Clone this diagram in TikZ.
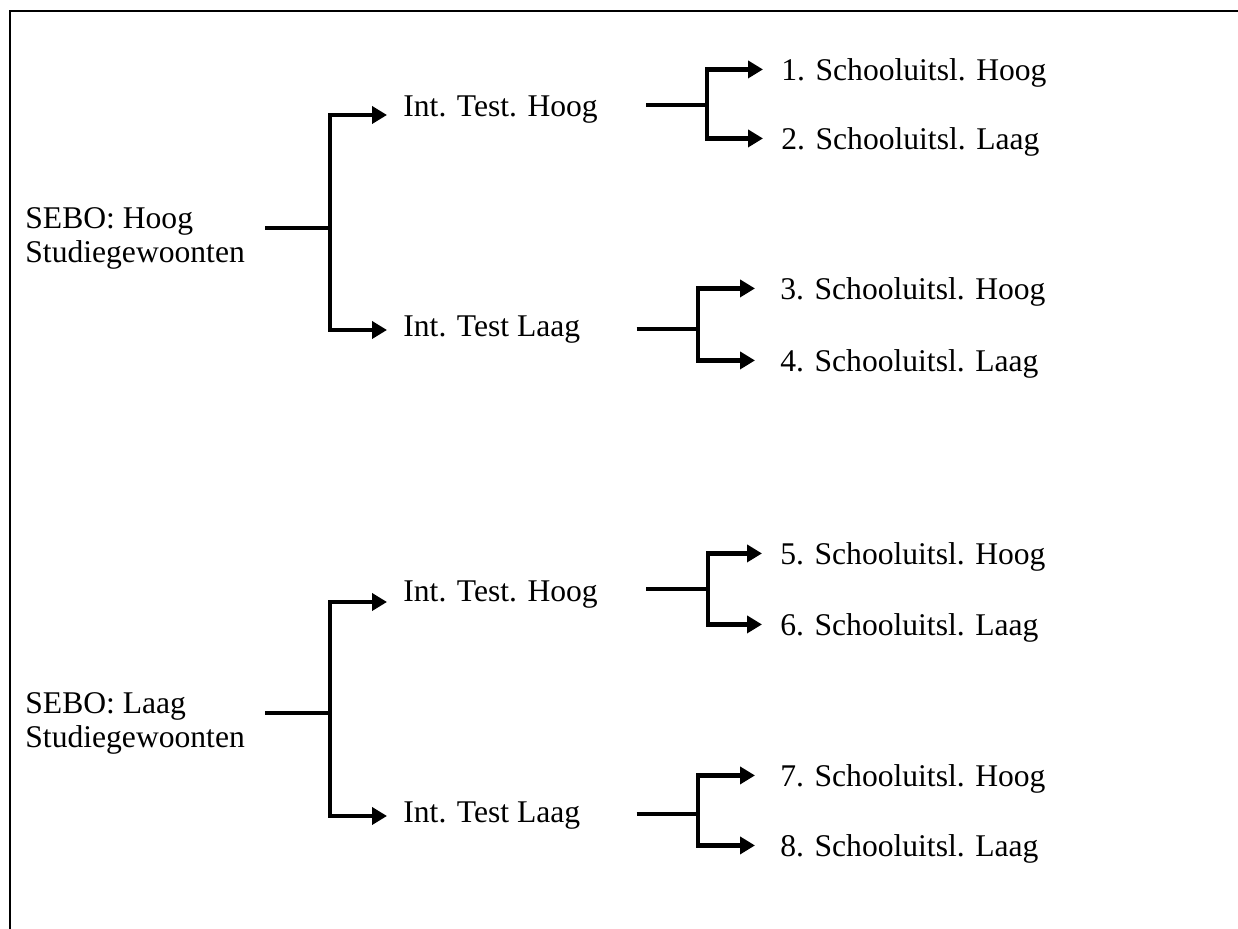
\documentclass[tikz,border=0pt]{standalone}
\usepackage{fontspec}
\setmainfont{Liberation Serif}
\usetikzlibrary{arrows.meta}
\tikzset{
  txt/.style={inner sep=0pt,font=\fontsize{15.8}{17}\selectfont},
  bar/.style={line width=2.4pt},
  arr/.style={line width=2.4pt,-{Triangle[length=7.5pt,width=8.5pt]}},
  frame/.style={line width=1pt}
}
\begin{document}
\begin{tikzpicture}[x=0.5pt,y=-0.5pt]
\useasboundingbox (0,0) rectangle (1238,929);
\draw[frame] (10,929) -- (10,11) -- (1238,11);
% upper tree
\node[txt,anchor=north west,align=left] (r1) at (25,207) {SEBO: Hoog\\Studiegewoonten};
\node[txt,anchor=west] (i1h) at (403,110) {Int. Test. Hoog};
\node[txt,anchor=west] (i1l) at (403,330) {Int. Test Laag};
\node[txt,anchor=base west] (s1) at (781,81) {1. Schooluitsl. Hoog};
\node[txt,anchor=base west] (s2) at (781,150) {2. Schooluitsl. Laag};
\node[txt,anchor=base west] (s3) at (780,300) {3. Schooluitsl. Hoog};
\node[txt,anchor=base west] (s4) at (780,372) {4. Schooluitsl. Laag};
\coordinate (j1) at (330,228);
\coordinate (j2) at (707,105);
\coordinate (j3) at (698,329);
\draw[bar] ([xshift=10pt]r1.east |- j1) -- (j1);
\draw[arr] (j1) |- ([shift={(-8pt,-2.5pt)}]i1h.west);
\draw[arr] (j1) |- ([xshift=-8pt]i1l.west);
\draw[bar] ([xshift=24pt]i1h.east |- j2) -- (j2);
\draw[arr] (j2) |- ([shift={(-9pt,2pt)}]s1.west);
\draw[arr] (j2) |- ([shift={(-9pt,2pt)}]s2.west);
\draw[bar] ([xshift=28pt]i1l.east |- j3) -- (j3);
\draw[arr] (j3) |- ([shift={(-12.5pt,2pt)}]s3.west);
\draw[arr] (j3) |- ([shift={(-12.5pt,2pt)}]s4.west);
% lower tree
\node[txt,anchor=north west,align=left] (r2) at (25,692) {SEBO: Laag\\Studiegewoonten};
\node[txt,anchor=west] (i2h) at (403,595) {Int. Test. Hoog};
\node[txt,anchor=west] (i2l) at (403,816) {Int. Test Laag};
\node[txt,anchor=base west] (s5) at (780,565) {5. Schooluitsl. Hoog};
\node[txt,anchor=base west] (s6) at (780,636) {6. Schooluitsl. Laag};
\node[txt,anchor=base west] (s7) at (780,787) {7. Schooluitsl. Hoog};
\node[txt,anchor=base west] (s8) at (780,857) {8. Schooluitsl. Laag};
\coordinate (j4) at (330,713);
\coordinate (j5) at (708,589);
\coordinate (j6) at (698,814);
\draw[bar] ([xshift=10pt]r2.east |- j4) -- (j4);
\draw[arr] (j4) |- ([shift={(-8pt,-3.5pt)}]i2h.west);
\draw[arr] (j4) |- ([xshift=-8pt]i2l.west);
\draw[bar] ([xshift=24pt]i2h.east |- j5) -- (j5);
\draw[arr] (j5) |- ([shift={(-9pt,2pt)}]s5.west);
\draw[arr] (j5) |- ([shift={(-9pt,2pt)}]s6.west);
\draw[bar] ([xshift=28pt]i2l.east |- j6) -- (j6);
\draw[arr] (j6) |- ([shift={(-12.5pt,2pt)}]s7.west);
\draw[arr] (j6) |- ([shift={(-12.5pt,2pt)}]s8.west);
\end{tikzpicture}
\end{document}
